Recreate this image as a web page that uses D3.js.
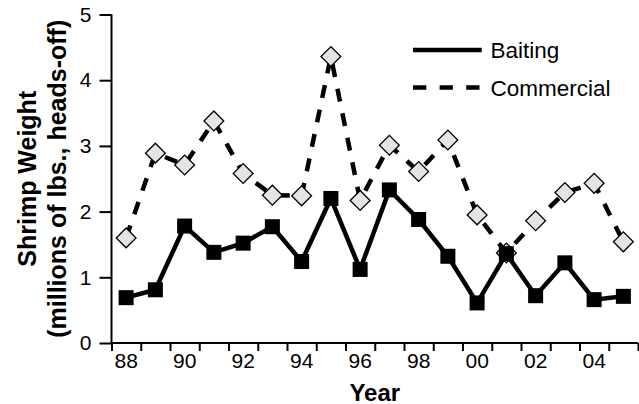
<!DOCTYPE html>
<html>
<head>
<meta charset="utf-8">
<script src="https://cdn.jsdelivr.net/npm/d3@7"></script>
<style>
  body { margin: 0; background: #fff; }
  text { font-family: "Liberation Sans", Arial, sans-serif; }
</style>
</head>
<body>
<div id="chart"></div>
<script>
// data
var years = ["88", "89", "90", "91", "92", "93", "94", "95", "96", "97", "98", "99", "00", "01", "02", "03", "04", "05"];
var baiting = [0.69, 0.81, 1.78, 1.38, 1.52, 1.77, 1.24, 2.2, 1.12, 2.33, 1.88, 1.32, 0.61, 1.36, 0.72, 1.22, 0.66, 0.71];
var commercial = [1.6, 2.89, 2.71, 3.38, 2.58, 2.25, 2.24, 4.36, 2.17, 3.01, 2.61, 3.09, 1.95, 1.37, 1.86, 2.29, 2.43, 1.54];
var yTicks = [0, 1, 2, 3, 4, 5];
var xLabels = ["88", "90", "92", "94", "96", "98", "00", "02", "04"];

var svgWidth = 639;
var svgHeight = 404;

var margin = { top: 14.5, right: 1, bottom: 61, left: 111.5 };
var width = svgWidth - margin.left - margin.right;
var height = svgHeight - margin.top - margin.bottom;

var svg = d3.select("#chart")
  .append("svg")
  .attr("width", svgWidth)
  .attr("height", svgHeight);

var chartGroup = svg.append("g")
  .attr("transform", `translate(${margin.left}, ${margin.top})`);

// scales
var xScale = d3.scaleBand()
  .domain(years)
  .range([0, width])
  .padding(0);

var xEdge = d3.scaleLinear()
  .domain([0, years.length])
  .range([0, width]);

var yScale = d3.scaleLinear()
  .domain([0, 5])
  .range([height, 0]);

// x axis: tick marks at band edges, labels at band centres
var xTickAxis = d3.axisBottom(xEdge)
  .tickValues(d3.range(0, years.length + 1))
  .tickSize(8)
  .tickFormat("");

var xLabelAxis = d3.axisBottom(xScale)
  .tickValues(xLabels)
  .tickSize(0)
  .tickPadding(10);

var gx = chartGroup.append("g")
  .attr("transform", `translate(0, ${height})`)
  .call(xTickAxis);

var gxl = chartGroup.append("g")
  .attr("transform", `translate(0, ${height})`)
  .call(xLabelAxis);
gxl.select(".domain").remove();

var yAxis = d3.axisLeft(yScale)
  .tickValues(yTicks)
  .tickFormat(d3.format("d"))
  .tickSize(12)
  .tickPadding(8);

var gy = chartGroup.append("g").call(yAxis);

[gx, gy].forEach(function(g) {
  g.selectAll("path, line").attr("stroke", "#000").attr("stroke-width", 2);
});
gx.select(".domain").attr("d", `M0,0H${width}`);
gy.select(".domain").attr("d", `M0,0V${height}`);

[gxl, gy].forEach(function(g) {
  g.attr("font-size", null).attr("font-family", null);
  g.selectAll(".tick text")
    .style("font-size", "21px")
    .style("font-family", "'Liberation Sans', Arial, sans-serif")
    .attr("fill", "#000");
});

// line generators
var cx = function(d, i) { return xScale(years[i]) + xScale.bandwidth() / 2; };

var lineGen = d3.line()
  .x(cx)
  .y(d => yScale(d));

// commercial: dashed with diamonds
chartGroup.append("path")
  .datum(commercial)
  .attr("d", lineGen)
  .attr("fill", "none")
  .attr("stroke", "#000")
  .attr("stroke-width", 4.5)
  .attr("stroke-dasharray", "13,12");

chartGroup.selectAll(".diamond")
  .data(commercial)
  .enter()
  .append("rect")
  .attr("class", "diamond")
  .attr("x", -7)
  .attr("y", -7)
  .attr("width", 14)
  .attr("height", 14)
  .attr("transform", (d, i) => `translate(${cx(d, i)}, ${yScale(d)}) rotate(45)`)
  .attr("fill", "#e4e4e4")
  .attr("stroke", "#000")
  .attr("stroke-width", 1.3);

// baiting: solid with squares
chartGroup.append("path")
  .datum(baiting)
  .attr("d", lineGen)
  .attr("fill", "none")
  .attr("stroke", "#000")
  .attr("stroke-width", 4.5)
  .attr("stroke-linejoin", "miter");

chartGroup.selectAll(".square")
  .data(baiting)
  .enter()
  .append("rect")
  .attr("class", "square")
  .attr("x", (d, i) => cx(d, i) - 7.5)
  .attr("y", d => yScale(d) - 7.5)
  .attr("width", 15)
  .attr("height", 15)
  .attr("fill", "#000");

// legend
var legend = svg.append("g");
var legendItems = [
  { name: "Baiting", dash: null, y: 50 },
  { name: "Commercial", dash: "13.3,13.3", y: 87.5 }
];
legendItems.forEach(function(item) {
  legend.append("line")
    .attr("x1", 413)
    .attr("x2", 481.7)
    .attr("y1", item.y)
    .attr("y2", item.y)
    .attr("stroke", "#000")
    .attr("stroke-width", 4.5)
    .attr("stroke-dasharray", item.dash);
  legend.append("text")
    .attr("x", 490.5)
    .attr("y", item.y)
    .attr("dy", "0.36em")
    .attr("font-size", 22.5)
    .text(item.name);
});

// axis titles
var yTitle = svg.append("text")
  .attr("transform", `translate(0, ${margin.top + height / 2}) rotate(-90)`)
  .attr("text-anchor", "middle")
  .attr("font-size", 25)
  .attr("font-weight", "bold");
yTitle.append("tspan").attr("x", 0).attr("y", 36).text("Shrimp Weight");
yTitle.append("tspan").attr("x", 0).attr("y", 66).text("(millions of lbs., heads-off)");

svg.append("text")
  .attr("x", margin.left + width / 2)
  .attr("y", 401)
  .attr("text-anchor", "middle")
  .attr("font-size", 24)
  .attr("font-weight", "bold")
  .text("Year");
</script>
</body>
</html>
